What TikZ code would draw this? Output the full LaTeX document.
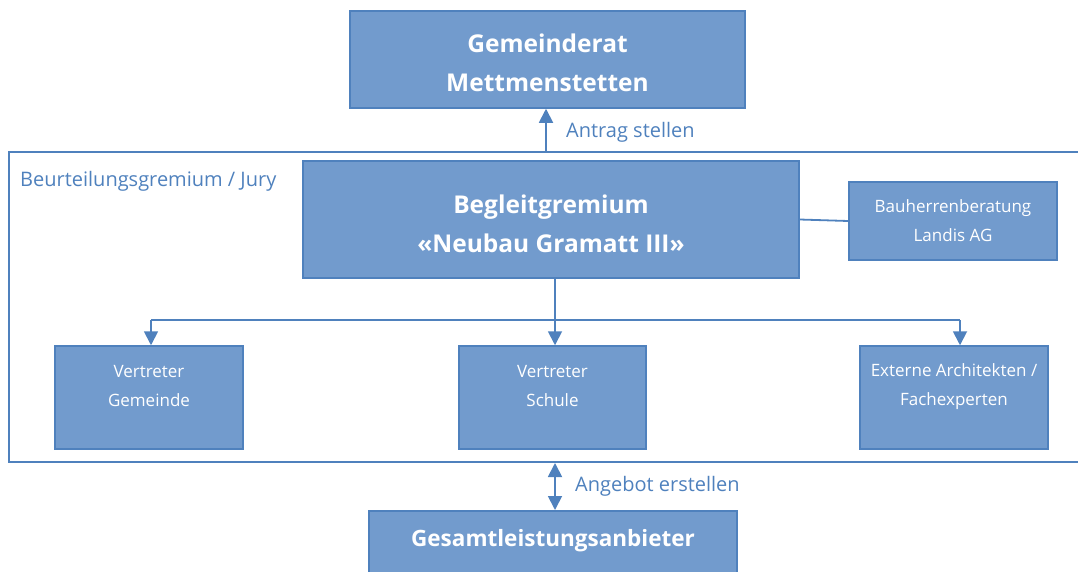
\documentclass[tikz,border=0pt]{standalone}
\usepackage{fontspec}
\setmainfont{Open Sans}
\usetikzlibrary{arrows.meta}
\definecolor{boxfill}{RGB}{114,155,205}
\definecolor{boxline}{RGB}{79,129,189}
\definecolor{labtext}{RGB}{79,129,189}
\newcommand{\shiftedtext}[3]{\raisebox{#1}[0pt][0pt]{\parbox{#2}{\centering #3}}}
\tikzset{
  box/.style={draw=boxline, line width=1.5pt, fill=boxfill, text=white, align=center, inner sep=0pt},
  bigtext/.style={font=\bfseries\fontsize{24.5}{39}\selectfont},
  smalltext/.style={font=\fontsize{17}{29}\selectfont},
  lab/.style={text=labtext, font=\fontsize{20}{24}\selectfont, inner sep=0pt},
  conn/.style={draw=boxline, line width=1.8pt},
  arr/.style={conn, -{Triangle[width=14pt,length=14pt]}},
  darr/.style={conn, {Triangle[width=14pt,length=14pt]}-{Triangle[width=14pt,length=14pt]}},
}
\begin{document}
\begin{tikzpicture}[x=1pt,y=-1pt]
\useasboundingbox (0,0) rectangle (1078,571);
\clip (0,0) rectangle (1078,571);
% jury frame
\draw[draw=boxline, line width=1.5pt] (9,152) rectangle (1100,462);
\node[lab, anchor=west] (jury) at (20,181) {Beurteilungsgremium / Jury};
% boxes
\node[box, bigtext, minimum width=395pt, minimum height=97pt] (gem) at (547.5,59.5) {\shiftedtext{-9.5pt}{390pt}{Gemeinderat\\Mettmenstetten}};
\node[box, bigtext, minimum width=496pt, minimum height=117pt] (beg) at (551,219.5) {\shiftedtext{-11pt}{490pt}{Begleitgremium\\«Neubau Gramatt III»}};
\node[box, smalltext, minimum width=208pt, minimum height=78pt] (bau) at (953,221) {Bauherrenberatung\\Landis AG};
\node[box, smalltext, minimum width=188pt, minimum height=103pt] (vg) at (149,397.5) {\shiftedtext{7pt}{180pt}{Vertreter\\Gemeinde}};
\node[box, smalltext, minimum width=187pt, minimum height=103pt] (vs) at (552.5,397.5) {\shiftedtext{7pt}{180pt}{Vertreter\\Schule}};
\node[box, smalltext, minimum width=188pt, minimum height=103pt] (ea) at (954,397.5) {\shiftedtext{7pt}{186pt}{Externe Architekten /\\Fachexperten}};
\node[box, font=\bfseries\fontsize{22.5}{30}\selectfont, minimum width=368pt, minimum height=80pt, anchor=north] (ges) at (553,510) {\raisebox{4pt}[0pt][0pt]{Gesamtleistungsanbieter}};
% connectors
\coordinate (jc) at (555,320);
\coordinate (jl) at (151,320);
\coordinate (jr) at (960,320);
\draw[conn] (jc |- beg.south) -- (jc);
\draw[conn] (jl) -- (jr);
\draw[arr] (jl) -- (jl |- vg.north);
\draw[arr] (jc) -- (jc |- vs.north);
\draw[arr] (jr) -- (jr |- ea.north);
\draw[conn] (beg.east) -- (bau.west);
\coordinate (a0) at (546,152);
\draw[arr] (a0) -- (a0 |- gem.south);
\node[lab, anchor=west] (antrag) at (566,132) {Antrag stellen};
\coordinate (b0) at (555,463);
\draw[darr] (b0) -- (b0 |- ges.north);
\node[lab, anchor=west] (angebot) at (575,486) {Angebot erstellen};
\end{tikzpicture}
\end{document}
